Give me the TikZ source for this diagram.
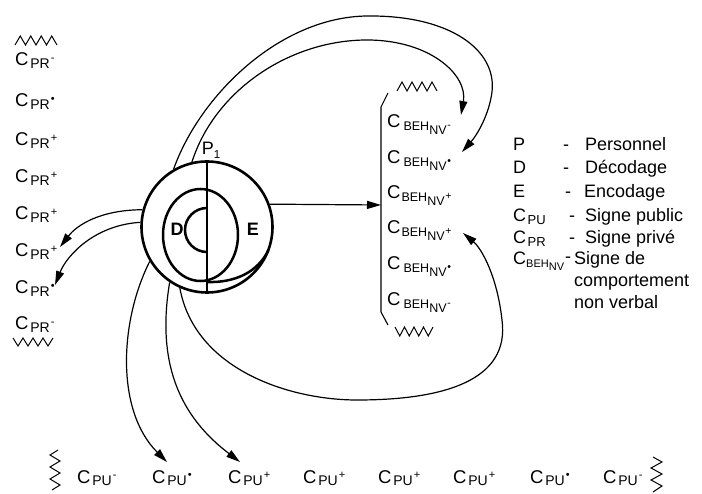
\documentclass[tikz,border=0pt]{standalone}
\usepackage{fontspec}
\setmainfont{Liberation Sans}
\usetikzlibrary{arrows.meta}
\newcommand{\fsz}[1]{\fontsize{#1}{#1}\selectfont}
\newcommand{\Csub}[2]{\fsz{18.5}C\hspace{1.8pt}\raisebox{-0.28ex}{\fsz{14}#1}\hspace{1pt}\raisebox{0.5ex}{\fsz{11}#2}}
\newcommand{\Cpr}[1]{\Csub{PR}{#1}}
\newcommand{\Cpu}[1]{\Csub{PU}{#1}}
\newcommand{\Cbeh}[2]{\fsz{18.5}C\hspace{#2}\raisebox{-0.25ex}{\fsz{12.5}BEH\raisebox{-0.6ex}{NV\hspace{0.8pt}\raisebox{0.95ex}{\fsz{10.5}#1}}}}
\newcommand{\sgm}{-}
\newcommand{\sgo}{•}
\newcommand{\sgp}{+}
\begin{document}
\begin{tikzpicture}[x=1pt,y=-1pt,
  ring/.style={draw, line width=2.5pt},
  arr/.style={line width=1.2pt, -{Triangle[length=14pt,width=8pt]}},
  lbl/.style={anchor=base west, inner sep=0pt},
  leg/.style={anchor=base west, inner sep=0pt, font=\fsz{18}},
  zz/.style={line width=1pt, line join=miter}]
\useasboundingbox (0,0) rectangle (702,494);

% person
\node[circle, draw, line width=2.6pt, minimum size=131pt, inner sep=0pt] (P) at (207,227) {};
\draw[ring] (200.5,235) ellipse [x radius=37.5, y radius=46];
\draw[ring] (268.5,250) .. controls (258,272) and (235,283) .. (207,282);
\draw[ring] (207,208) arc [start angle=90, end angle=270, x radius=22, y radius=-22];
\draw[ring] (207,162) -- (207,292);
\node[inner sep=0pt] (p1) at (211,150) {\fsz{18}P\raisebox{-0.4ex}{\fsz{11.5}1}};
\node[inner sep=0pt] (d) at (177,229) {\fsz{18}\bfseries D};
\node[inner sep=0pt] (e) at (253,229) {\fsz{18}\bfseries E};

% left column
\draw[zz] (15,45) -- (20.25,36) -- (25.5,45) -- (30.75,36) -- (36,45) -- (41.25,36) -- (46.5,45) -- (51.75,36) -- (57,45);
\node[lbl] (pr1) at (15,66) {\Cpr{\sgm}};
\node[lbl] (pr2) at (15,107) {\Cpr{\sgo}};
\node[lbl] (pr3) at (15,146) {\Cpr{\sgp}};
\node[lbl] (pr4) at (15,183) {\Cpr{\sgp}};
\node[lbl] (pr5) at (15,220) {\Cpr{\sgp}};
\node[lbl] (pr6) at (15,257) {\Cpr{\sgp}};
\node[lbl] (pr7) at (15,294) {\Cpr{\sgo}};
\node[lbl] (pr8) at (15,330) {\Cpr{\sgm}};
\draw[zz] (13,338) -- (18,346) -- (23,338) -- (28,346) -- (33,338) -- (38,346) -- (43,338) -- (48,346) -- (53,338);

% right column
\draw[zz] (397,91) -- (402,82) -- (407,91) -- (412,82) -- (417,91) -- (422,82) -- (427,91) -- (432,82) -- (437,91);
\draw[line width=1.1pt] (388,93) -- (381,107) -- (381,312) -- (388,325);
\coordinate (brk) at (381,205);
\node[lbl] (b1) at (387,128) {\Cbeh{\sgm}{3pt}};
\node[lbl] (b2) at (387,164) {\Cbeh{\sgo}{3pt}};
\node[lbl] (b3) at (387,199) {\Cbeh{\sgp}{1pt}};
\node[lbl] (b4) at (387,234) {\Cbeh{\sgp}{1pt}};
\node[lbl] (b5) at (387,270) {\Cbeh{\sgo}{3pt}};
\node[lbl] (b6) at (387,306) {\Cbeh{\sgm}{3pt}};
\draw[zz] (395,327) -- (399.75,336) -- (404.5,327) -- (409.25,336) -- (414,327) -- (418.75,336) -- (423.5,327) -- (428.25,336) -- (433,327);

% bottom row
\draw[zz] (58,450) -- (50,455) -- (60,461) -- (50,467) -- (60,473) -- (50,479) -- (60,485) -- (52,490);
\node[lbl] (u1) at (77,483) {\Cpu{\sgm}};
\node[lbl] (u2) at (152,483) {\Cpu{\sgo}};
\node[lbl] (u3) at (228,483) {\Cpu{\sgp}};
\node[lbl] (u4) at (303,483) {\Cpu{\sgp}};
\node[lbl] (u5) at (378,483) {\Cpu{\sgp}};
\node[lbl] (u6) at (453,483) {\Cpu{\sgp}};
\node[lbl] (u7) at (530,483) {\Cpu{\sgo}};
\node[lbl] (u8) at (603,483) {\Cpu{\sgm}};
\draw[zz] (653,457) -- (662,462) -- (651,468) -- (662,474) -- (651,480) -- (662,486) -- (653,492);

% legend
\node[leg] (lp) at (513,151) {P};
\node[leg] (ld) at (513,174) {D};
\node[leg] (le) at (513,198) {E};
\node[lbl] (lcpu) at (513,222) {\fsz{18}C\hspace{1.5pt}\raisebox{-0.28ex}{\fsz{13}PU}};
\node[lbl] (lcpr) at (513,244) {\fsz{18}C\hspace{1.5pt}\raisebox{-0.28ex}{\fsz{13}PR}};
\node[lbl] (lcbeh) at (513,265) {\fsz{18}C\raisebox{-0.25ex}{\fsz{11}BEH\raisebox{-0.6ex}{NV}}};
\node[leg] (dp) at (563,151) {-};
\node[leg] (dd) at (563,174) {-};
\node[leg] (de) at (565,198) {-};
\node[leg] (dpu) at (569,222) {-};
\node[leg] (dpr) at (569,244) {-};
\node[leg] (db) at (565,263) {-};
\node[leg] (tp) at (585,151) {Personnel};
\node[leg] (td) at (585,174) {Décodage};
\node[leg] (te) at (584,198) {Encodage};
\node[leg] (tpu) at (585,222) {Signe public};
\node[leg] (tpr) at (585,244) {Signe privé};
\node[leg] (tb1) at (574,265) {Signe de};
\node[leg] (tb2) at (574,287) {comportement};
\node[leg] (tb3) at (574,309) {non verbal};

% connectors
\coordinate (t1) at (462,152);
\coordinate (t2) at (461,115);
\coordinate (t3) at (60,247);
\coordinate (t4) at (55,285);
\coordinate (t5) at (167,462);
\coordinate (t6) at (240,462);
\coordinate (t7) at (463,233);
\draw[arr] (P.120) .. controls (200,95) and (280,17) .. (367,16)
  .. controls (450,15) and (497,50) .. (492,92)
  .. controls (489,115) and (477,135) .. (t1);
\draw[arr] (P.103) .. controls (215,90) and (290,40) .. (367,40)
  .. controls (430,40) and (468,75) .. (t2);
\draw[arr] (P.20) -- (brk);
\draw[arr] (P.165) .. controls (100,210) and (77,225) .. (t3);
\draw[arr] (P.176) .. controls (95,225) and (67,255) .. (t4);
\draw[arr] (P.211) .. controls (120,320) and (115,410) .. (t5);
\draw[arr] (P.236) .. controls (155,370) and (185,420) .. (t6);
\draw[arr] (P.246) .. controls (195,370) and (290,400) .. (357,400)
  .. controls (445,400) and (510,380) .. (502,320)
  .. controls (497,275) and (481,248) .. (t7);
\end{tikzpicture}
\end{document}
